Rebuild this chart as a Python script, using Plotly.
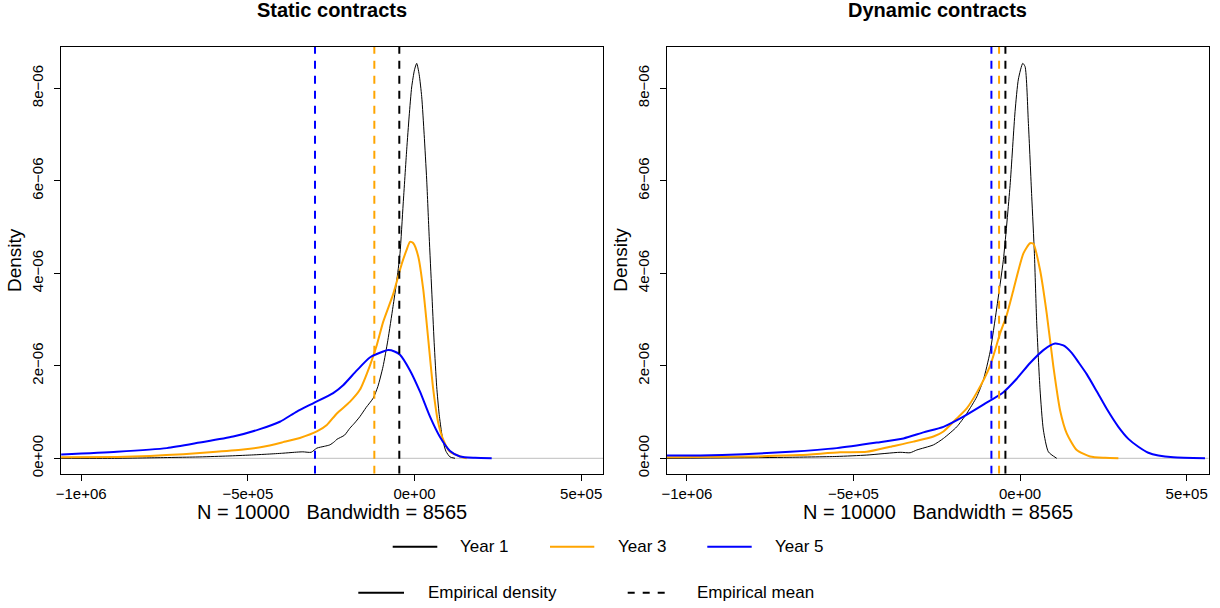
import plotly.graph_objects as go

# density values are in units of 1e-06
static_y1_x = [-1.06e6, -9.0e5, -7.94e5, -6.44e5, -5.6e5, -4.94e5, -4.4e5, -3.95e5, -3.6e5, -3.35e5, -3.1e5,
               -2.93e5, -2.7e5, -2.54e5, -2.4e5, -2.33e5, -2.1e5, -1.94e5, -1.8e5, -1.64e5, -1.45e5, -1.24e5,
               -1.1e5, -9.45e4, -8.0e4, -6.45e4, -5.4e4, -4.35e4, -3.4e4, -2.34e4, -1.6e4, -8.4e3, 0, 6.6e3,
               1.4e4, 2.16e4, 2.9e4, 3.66e4, 4.4e4, 5.16e4, 5.9e4, 6.66e4, 7.4e4, 8.16e4, 8.8e4, 9.45e4,
               1.065e5, 1.215e5]
static_y1_d = [0.0, 0.0, 0.01, 0.03, 0.05, 0.07, 0.09, 0.11, 0.13, 0.14, 0.13, 0.22, 0.26, 0.29, 0.36, 0.41,
               0.5, 0.65, 0.76, 0.9, 1.1, 1.3, 1.55, 1.98, 2.55, 3.28, 3.8, 4.43, 5.5, 6.67, 7.4, 8.03, 8.4,
               8.54, 8.3, 7.82, 7.0, 6.02, 4.8, 3.64, 2.5, 1.55, 0.95, 0.54, 0.3, 0.15, 0.03, 0.0]

static_y3_x = [-1.06e6, -8.93e5, -7.94e5, -6.94e5, -6.14e5, -5.14e5, -4.54e5, -3.94e5, -3.44e5, -2.93e5,
               -2.63e5, -2.33e5, -1.94e5, -1.64e5, -1.34e5, -1.13e5, -9.4e4, -6.4e4, -3.84e4, -2.4e4, -1.35e4,
               -3.6e3, 1.14e4, 2.64e4, 4.14e4, 5.64e4, 7.14e4, 8.64e4, 1.065e5, 1.365e5, 1.566e5]
static_y3_d = [0.02, 0.03, 0.05, 0.09, 0.13, 0.19, 0.25, 0.35, 0.44, 0.58, 0.72, 0.97, 1.22, 1.48, 2.0, 2.45,
               2.95, 3.55, 4.2, 4.5, 4.68, 4.65, 4.36, 3.64, 2.56, 1.48, 0.76, 0.4, 0.14, 0.04, 0.0]

static_y5_x = [-1.06e6, -8.93e5, -7.43e5, -6.44e5, -5.44e5, -4.64e5, -4.04e5, -3.53e5, -3.04e5, -2.44e5,
               -2.14e5, -1.73e5, -1.34e5, -9.4e4, -7.9e4, -6.0e4, -4.35e4, -1.35e4, 1.65e4, 4.65e4, 7.65e4,
               1.065e5, 1.365e5, 1.815e5, 2.316e5]
static_y5_d = [0.08, 0.14, 0.22, 0.34, 0.47, 0.63, 0.79, 1.01, 1.19, 1.41, 1.58, 1.9, 2.18, 2.31, 2.34, 2.31,
               2.24, 1.9, 1.44, 0.9, 0.46, 0.16, 0.04, 0.01, 0.0]

dynamic_y1_x = [-1.06e6, -7.1e5, -5.5e5, -4.6e5, -3.6e5, -3.3e5, -3.1e5, -2.6e5, -2.3e5, -1.9e5, -1.6e5,
                -1.3e5, -1.1e5, -9.0e4, -7.0e4, -5.0e4, -3.0e4, -1.5e4, -5e3, 8.1e3, 1.5e4, 2.5e4, 3.5e4,
                4.3e4, 5.0e4, 6.0e4, 7.0e4, 8.5e4, 1.1e5]
dynamic_y1_d = [0.0, 0.02, 0.04, 0.07, 0.13, 0.12, 0.18, 0.29, 0.43, 0.68, 0.97, 1.33, 1.7, 2.3, 3.25, 4.3,
                5.9, 7.5, 8.2, 8.54, 8.47, 7.24, 5.66, 4.43, 2.92, 1.48, 0.61, 0.14, 0.0]

dynamic_y3_x = [-1.06e6, -8.1e5, -6.6e5, -5.4e5, -4.6e5, -3.9e5, -3.2e5, -2.6e5, -2.3e5, -1.9e5, -1.6e5,
                -1.3e5, -9.0e4, -6.0e4, -4.0e4, -2.0e4, 1.0e4, 3.0e4, 4.0e4, 6.0e4, 8.0e4, 1.0e5, 1.2e5,
                1.4e5, 1.7e5, 2.1e5, 2.55e5, 2.95e5]
dynamic_y3_d = [0.02, 0.04, 0.07, 0.13, 0.14, 0.25, 0.36, 0.47, 0.58, 0.86, 1.08, 1.42, 2.0, 2.7, 3.1, 3.64,
                4.43, 4.65, 4.64, 4.07, 3.13, 1.98, 1.04, 0.54, 0.18, 0.04, 0.01, 0.0]

dynamic_y5_x = [-1.06e6, -9.6e5, -8.3e5, -6.9e5, -5.5e5, -4.3e5, -3.5e5, -2.9e5, -2.3e5, -1.7e5, -1.1e5,
                -5.0e4, -1.0e4, 3.0e4, 7.0e4, 1.05e5, 1.3e5, 1.55e5, 1.75e5, 2.0e5, 2.3e5, 2.6e5, 2.95e5,
                3.25e5, 3.55e5, 3.85e5, 4.15e5, 4.6e5, 5.55e5]
dynamic_y5_d = [0.06, 0.06, 0.09, 0.14, 0.22, 0.34, 0.43, 0.56, 0.68, 0.9, 1.16, 1.43, 1.72, 2.06, 2.34, 2.48,
                2.44, 2.28, 2.08, 1.82, 1.45, 1.07, 0.68, 0.42, 0.25, 0.12, 0.06, 0.02, 0.0]

static_means = [-4.56e4, -1.205e5, -2.985e5]
dynamic_means = [-4.4e4, -6.3e4, -8.6e4]

years = ['Year 1', 'Year 3', 'Year 5']
colors = ['black', '#FFA500', '#0000FF']
widths = [1, 2, 2]

x_ticks = [-1e6, -5e5, 0, 5e5]
x_ticktext = ['\u22121e+06', '\u22125e+05', '0e+00', '5e+05']
y_ticks = [0, 2e-6, 4e-6, 6e-6, 8e-6]
y_ticktext = ['0e+00', '2e\u221206', '4e\u221206', '6e\u221206', '8e\u221206']

W, H = 1220, 608
FONT = 'Liberation Sans, Arial, sans-serif'


def px_x(p):
    return p / W


def px_y(p):
    return 1 - p / H


def note(text, x, y, size, **kw):
    return dict(text=text, x=px_x(x), y=px_y(y), xref='paper', yref='paper', showarrow=False,
                xanchor=kw.pop('xanchor', 'center'), yanchor='middle',
                font=dict(size=size, color='black', family=FONT), **kw)


fig = go.Figure()

panels = [
    ('Static contracts', [(static_y1_x, static_y1_d), (static_y3_x, static_y3_d), (static_y5_x, static_y5_d)],
     static_means, '', (61, 603)),
    ('Dynamic contracts', [(dynamic_y1_x, dynamic_y1_d), (dynamic_y3_x, dynamic_y3_d), (dynamic_y5_x, dynamic_y5_d)],
     dynamic_means, '2', (666.7, 1208.5)),
]

annotations = []
for title, curves, means, ax, (left, right) in panels:
    xref, yref = 'x' + ax, 'y' + ax
    # gray baseline
    fig.add_trace(go.Scatter(x=[-1.1e6, 6e5], y=[0, 0], mode='lines', line=dict(color='#BEBEBE', width=1),
                             xaxis=xref, yaxis=yref, showlegend=False, hoverinfo='skip'))
    for (xs, ds), name, c, w in zip(curves, years, colors, widths):
        fig.add_trace(go.Scatter(x=xs, y=[d * 1e-6 for d in ds], mode='lines', name=name,
                                 line=dict(color=c, width=w, shape='spline', smoothing=0.6),
                                 xaxis=xref, yaxis=yref, showlegend=False))
    for m, c in zip(means, colors):
        fig.add_trace(go.Scatter(x=[m, m], y=[-3.33e-7, 8.9e-6], mode='lines',
                                 line=dict(color=c, width=2, dash='8px,7px'),
                                 xaxis=xref, yaxis=yref, showlegend=False, hoverinfo='skip'))
    cx = (left + right) / 2
    annotations.append(note('<b>' + title + '</b>', cx, 10, 20))
    annotations.append(note('N = 10000   Bandwidth = 8565', cx, 512, 20))
    annotations.append(note('Density', left - 46, 260, 19, textangle=-90))

axis_common = dict(showline=True, mirror=True, linecolor='black', linewidth=1, showgrid=False, zeroline=False,
                   ticks='outside', ticklen=6, tickcolor='black', automargin=False,
                   tickfont=dict(size=15, color='black', family=FONT))
xcfg = dict(axis_common, range=[-1.0605e6, 5.655e5], tickvals=x_ticks, ticktext=x_ticktext)
ycfg = dict(axis_common, range=[-3.33e-7, 8.9e-6], tickvals=y_ticks, ticktext=y_ticktext, tickangle=-90,
            ticklabelstandoff=5)

# legend drawn by hand, two rows like the base R legend
shapes = []
row1 = [(392.7, 437.3, 457.7, 'Year 1', 'black', 'solid'),
        (550, 594.3, 615.7, 'Year 3', '#FFA500', 'solid'),
        (707.3, 751.7, 773.3, 'Year 5', '#0000FF', 'solid')]
row2 = [(358.3, 404, 426, 'Empirical density', 'black', 'solid'),
        (627.7, 665, 695, 'Empirical mean', 'black', '7px,8px')]
for row, yy in [(row1, 546.7), (row2, 592.7)]:
    for x0, x1, xt, label, c, dash in row:
        shapes.append(dict(type='line', xref='paper', yref='paper', x0=px_x(x0), x1=px_x(x1),
                           y0=px_y(yy), y1=px_y(yy), line=dict(color=c, width=2, dash=dash)))
        annotations.append(note(label, xt, yy, 17, xanchor='left'))

fig.update_layout(
    width=W, height=H, margin=dict(l=0, r=0, t=0, b=0),
    paper_bgcolor='white', plot_bgcolor='white', showlegend=False,
    xaxis=dict(xcfg, domain=[px_x(61), px_x(603)], anchor='y'),
    yaxis=dict(ycfg, domain=[px_y(473.7), px_y(46.7)], anchor='x'),
    xaxis2=dict(xcfg, domain=[px_x(666.7), px_x(1208.5)], anchor='y2'),
    yaxis2=dict(ycfg, domain=[px_y(473.7), px_y(46.7)], anchor='x2'),
    annotations=annotations, shapes=shapes,
)

# the page's default 8px body margin would push the figure off the window
fig.write_html('out.html', config={'displayModeBar': False},
               post_script="document.body.style.margin='0';")
